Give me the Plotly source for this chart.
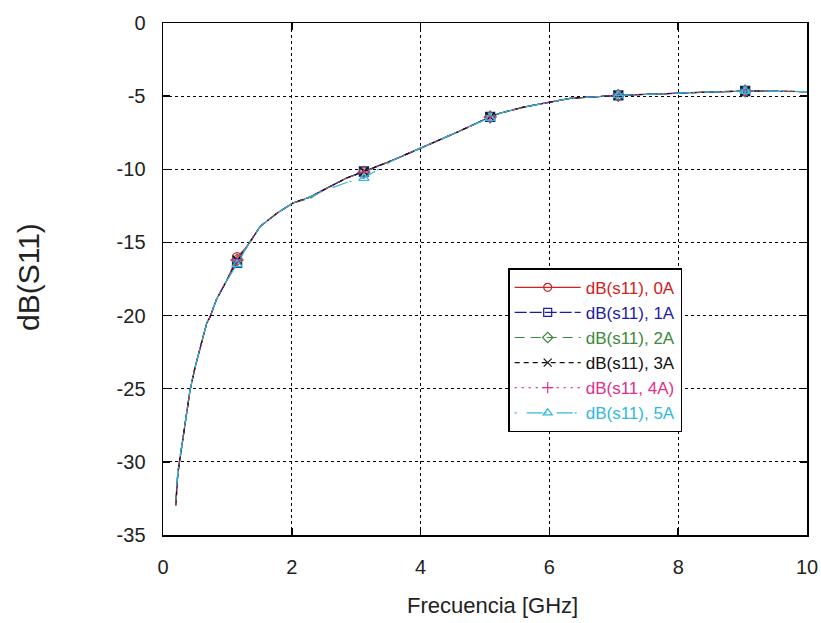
import plotly.graph_objects as go

# ---- data ----
freq = [0.2, 0.23, 0.26, 0.32, 0.37, 0.42, 0.5, 0.6, 0.68, 0.73, 0.83, 0.99, 1.15, 1.3,
        1.51, 1.77, 2.02, 2.28, 2.54, 2.85, 3.12, 3.58, 3.99, 4.3, 4.6, 5.08, 5.23, 5.6,
        6.01, 6.32, 7.07, 7.82, 8.34, 9.04, 10.0]

s11_0A = [-32.9, -30.8, -29.9, -28.0, -26.5, -25.1, -23.5, -21.9, -20.5, -20.1, -18.9, -17.6,
          -16.0, -15.3, -13.9, -13.0, -12.3, -11.9, -11.3, -10.6, -10.15, -9.36, -8.57, -8.0,
          -7.4, -6.42, -6.17, -5.75, -5.38, -5.15, -4.95, -4.8, -4.74, -4.65, -4.69]
s11_1A = [-32.6, -30.7, -29.8, -28.0, -26.4, -25.1, -23.5, -21.9, -20.5, -20.1, -18.9, -17.6,
          -16.4, -15.3, -13.9, -13.0, -12.3, -11.9, -11.3, -10.6, -10.15, -9.36, -8.57, -8.0,
          -7.4, -6.42, -6.17, -5.75, -5.38, -5.15, -4.95, -4.8, -4.74, -4.65, -4.69]
s11_2A = [-32.8, -30.8, -29.9, -28.0, -26.5, -25.1, -23.5, -21.9, -20.5, -20.1, -18.9, -17.6,
          -16.2, -15.3, -13.9, -13.0, -12.3, -12.0, -11.3, -10.6, -10.2, -9.36, -8.57, -8.0,
          -7.4, -6.42, -6.17, -5.75, -5.38, -5.15, -4.95, -4.8, -4.74, -4.65, -4.69]
s11_3A = [-33.0, -30.9, -29.9, -28.0, -26.5, -25.1, -23.5, -21.9, -20.5, -20.1, -18.9, -17.6,
          -16.2, -15.3, -13.9, -13.0, -12.3, -11.9, -11.3, -10.6, -10.15, -9.36, -8.57, -8.0,
          -7.4, -6.42, -6.17, -5.75, -5.38, -5.15, -4.95, -4.8, -4.74, -4.65, -4.69]
s11_4A = [-32.9, -30.8, -29.9, -28.0, -26.5, -25.1, -23.5, -21.9, -20.5, -20.1, -18.9, -17.6,
          -16.2, -15.3, -13.9, -13.0, -12.3, -11.9, -11.3, -10.6, -10.2, -9.36, -8.57, -8.0,
          -7.4, -6.42, -6.17, -5.75, -5.38, -5.15, -4.95, -4.8, -4.74, -4.65, -4.69]
s11_5A = [-32.5, -30.6, -29.8, -28.0, -26.4, -25.1, -23.5, -21.9, -20.5, -20.1, -18.9, -17.6,
          -16.5, -15.3, -13.9, -13.0, -12.3, -11.9, -11.4, -10.9, -10.6, -9.36, -8.57, -8.0,
          -7.4, -6.5, -6.17, -5.75, -5.38, -5.15, -4.95, -4.8, -4.74, -4.65, -4.69]

marker_freq = [1.15, 3.12, 5.08, 7.07, 9.04]

series_names = ["dB(s11), 0A", "dB(s11), 1A", "dB(s11), 2A", "dB(s11), 3A", "dB(s11, 4A)", "dB(s11), 5A"]
series_vals = [s11_0A, s11_1A, s11_2A, s11_3A, s11_4A, s11_5A]

x_ticks = [0, 2, 4, 6, 8, 10]
y_ticks = [0, -5, -10, -15, -20, -25, -30, -35]

# ---- styles ----
colors = ["#d42020", "#1c1ca8", "#3a8a3a", "#111111", "#e0308c", "#30b8e0"]
dashes = ["solid", "12px,3px", "10px,6px", "5px,4px", "2px,5px", "2px,10px,16px,2px"]
symbols = ["circle-open", "square-open", "diamond-open", "x-thin-open", "cross-thin-open", "triangle-up-open"]

FONT = "Liberation Sans, Arial"

fig = go.Figure()

def interp(xs, ys, x):
    for i in range(len(xs) - 1):
        if xs[i] <= x <= xs[i + 1]:
            t = (x - xs[i]) / (xs[i + 1] - xs[i])
            return ys[i] + t * (ys[i + 1] - ys[i])
    return ys[-1]

for i, (name, vals) in enumerate(zip(series_names, series_vals)):
    c = colors[i]
    fig.add_trace(go.Scatter(x=freq, y=vals, mode="lines", showlegend=False,
                             line=dict(color=c, width=1.2, dash=dashes[i]), hoverinfo="skip"))
    my = [interp(freq, vals, f) for f in marker_freq]
    fig.add_trace(go.Scatter(x=marker_freq, y=my, mode="markers", showlegend=False,
                             marker=dict(symbol=symbols[i], size=9, color=c,
                                         line=dict(color=c, width=1.3))))

for i, name in enumerate(series_names):
    c = colors[i]
    fig.add_trace(go.Scatter(x=[None], y=[None], mode="lines+markers",
                             name=f"<span style='color:{c}'>{name}</span>",
                             legendgroup=f"g{i}",
                             line=dict(color=c, width=1.2, dash=dashes[i]),
                             marker=dict(symbol=symbols[i], size=8, color=c,
                                         line=dict(color=c, width=1.2))))

axis_common = dict(showline=True, linecolor="black", linewidth=1.5, mirror="ticks",
                   ticks="inside", ticklen=7, tickwidth=1.5, tickcolor="black",
                   showgrid=True, gridcolor="black", gridwidth=1, griddash="dot",
                   zeroline=False, automargin=False,
                   tickfont=dict(family=FONT, size=20, color="#222"))

fig.update_layout(
    width=821, height=623, autosize=False,
    margin=dict(l=163, r=14, t=23, b=88),
    paper_bgcolor="white", plot_bgcolor="white",
    font=dict(family=FONT, color="#222"),
    xaxis=dict(range=[0, 10], tickvals=x_ticks, ticktext=[str(v) for v in x_ticks],
               ticklabelstandoff=13, **axis_common),
    yaxis=dict(range=[-35, 0], tickvals=y_ticks, ticktext=[str(v) for v in y_ticks],
               ticklabelstandoff=12, **axis_common),
    legend=dict(x=0.536, y=0.521, xanchor="left", yanchor="top",
                bordercolor="black", borderwidth=1.5, bgcolor="white",
                font=dict(family=FONT, size=17),
                itemwidth=66, tracegroupgap=0),
    showlegend=True,
    annotations=[
        dict(text="Frecuencia [GHz]", xref="paper", yref="paper", x=0.512, y=-0.137,
             xanchor="center", yanchor="middle", showarrow=False,
             font=dict(family=FONT, size=22, color="#222")),
        dict(text="dB(S11)", xref="paper", yref="paper", x=-0.208, y=0.504,
             xanchor="center", yanchor="middle", showarrow=False, textangle=-90,
             font=dict(family=FONT, size=30, color="#222")),
    ],
)

fig.write_html("out.html",
               config={"responsive": False, "displayModeBar": False, "staticPlot": True},
               post_script="document.body.style.margin='0';document.body.style.overflow='hidden';")
